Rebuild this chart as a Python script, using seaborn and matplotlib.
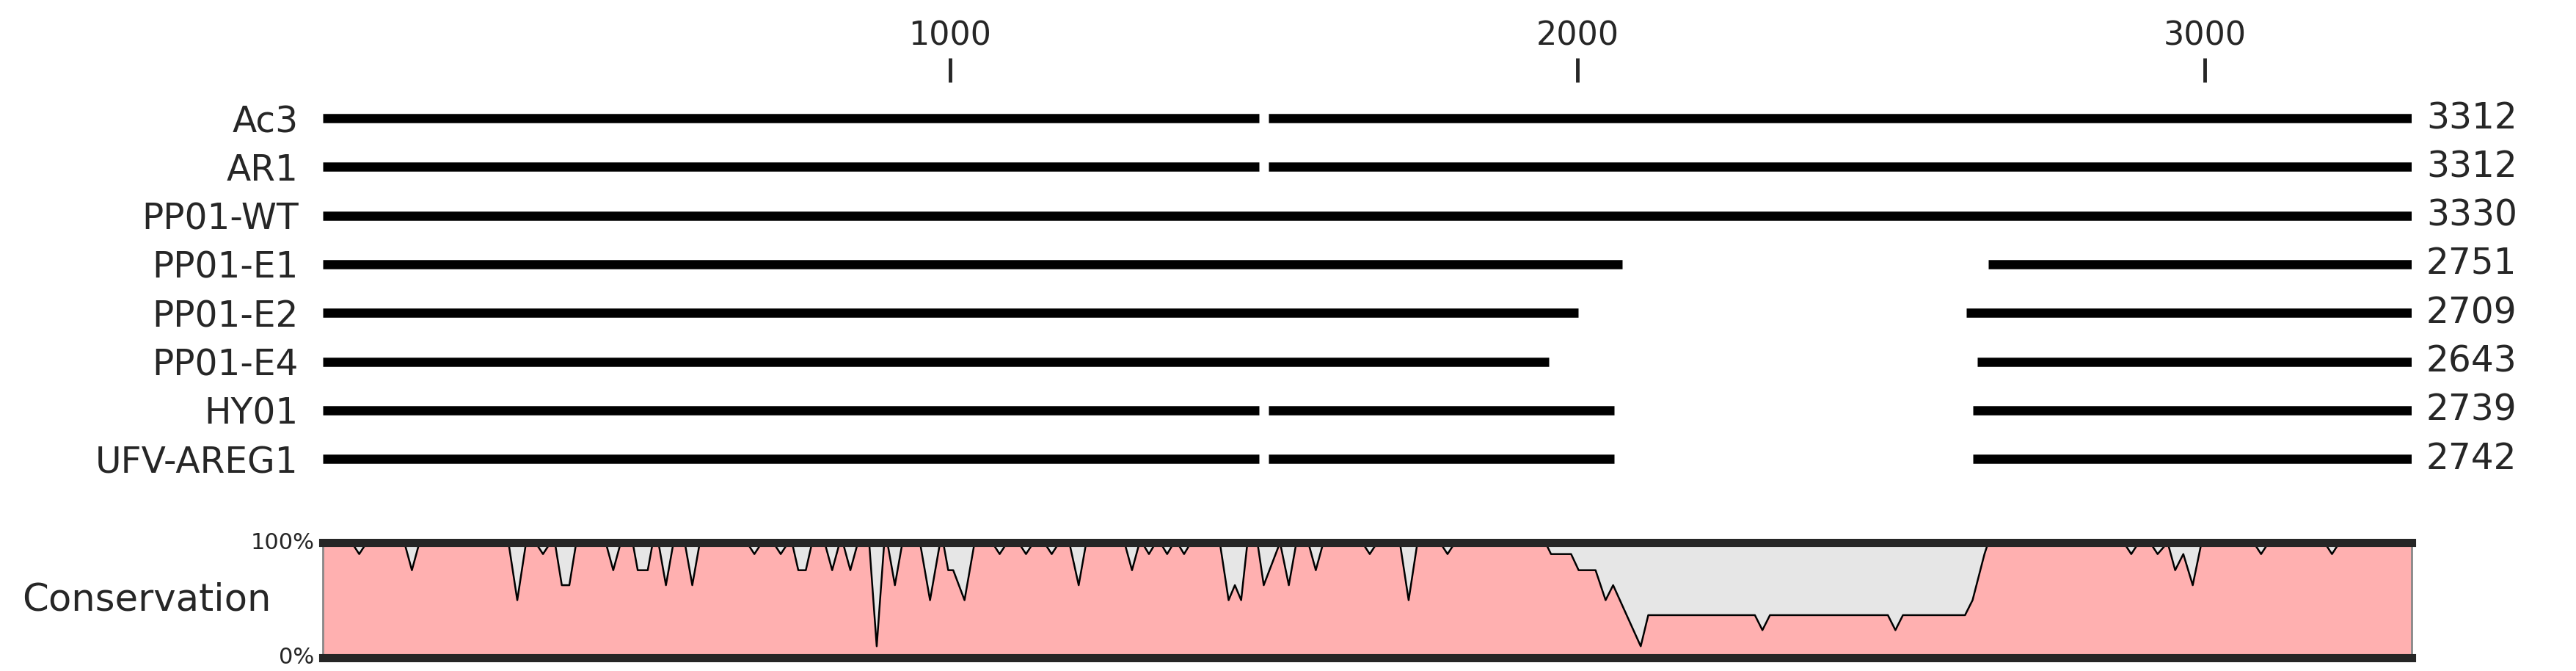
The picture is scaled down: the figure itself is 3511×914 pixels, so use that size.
import matplotlib
matplotlib.use("Agg")
import matplotlib.pyplot as plt
import seaborn as sns
import pandas as pd
import numpy as np

# sequence names, total lengths and aligned segments (alignment coordinates)
names = ['Ac3', 'AR1', 'PP01-WT', 'PP01-E1', 'PP01-E2', 'PP01-E4', 'HY01', 'UFV-AREG1']
lengths = [3312, 3312, 3330, 2751, 2709, 2643, 2739, 2742]
seg_start = [[0, 1508], [0, 1508], [0], [0, 2655], [0, 2620], [0, 2638], [0, 1508, 2631], [0, 1508, 2631]]
seg_end = [[1492, 3330], [1492, 3330], [3330], [2072, 3330], [2001, 3330], [1954, 3330], [1492, 2059, 3330], [1492, 2059, 3330]]
aln_len = 3330

# conservation profile breakpoints (position, percent)
cons_pos = [0, 46, 58, 70, 130, 142, 154, 296, 310, 324, 339, 351, 363, 370, 381, 393, 404,
            451, 463, 475, 494, 502, 518, 526, 535, 547, 559, 577, 589, 601, 676, 688, 700,
            718, 730, 742, 748, 758, 770, 780, 800, 812, 824, 829, 841, 853, 871, 883, 895,
            900, 912, 924, 952, 968, 984, 989, 997, 1005, 1023, 1039, 1067, 1079, 1091,
            1109, 1121, 1133, 1150, 1162, 1174, 1190, 1205, 1217, 1278, 1290, 1302, 1306, 1317,
            1328, 1335, 1346, 1357, 1362, 1373, 1384, 1430, 1444, 1454, 1464, 1474, 1490, 1500,
            1526, 1540, 1552, 1571, 1583, 1595, 1657, 1669, 1681, 1717, 1731, 1745, 1781, 1793,
            1805, 1949, 1958, 1990, 2002, 2029, 2045, 2057, 2101, 2113, 2283, 2295, 2307, 2495,
            2507, 2519, 2618, 2630, 2649, 2655, 2871, 2883, 2895, 2913, 2925, 2941, 2953, 2966,
            2981, 2995, 3078, 3090, 3102, 3191, 3203, 3215, 3330]
cons_val = [100, 100, 90, 100, 100, 76, 100, 100, 50, 100, 100, 90, 100, 100, 63, 63, 100,
            100, 76, 100, 100, 76, 76, 100, 100, 63, 100, 100, 63, 100, 100, 90, 100,
            100, 90, 100, 100, 76, 76, 100, 100, 76, 100, 100, 76, 100, 100, 10, 100,
            100, 63, 100, 100, 50, 100, 100, 76, 76, 50, 100, 100, 90, 100,
            100, 90, 100, 100, 90, 100, 100, 63, 100, 100, 76, 100, 100, 90,
            100, 100, 90, 100, 100, 90, 100, 100, 50, 63, 50, 100, 100, 63,
            100, 63, 100, 100, 76, 100, 100, 90, 100, 100, 50, 100, 100, 90,
            100, 100, 90, 90, 76, 76, 50, 63, 10, 37, 37, 24, 37, 37,
            24, 37, 37, 50, 90, 100, 100, 90, 100, 100, 90, 100, 76, 90,
            63, 100, 100, 90, 100, 100, 90, 100, 100]

ticks = [1000, 2000, 3000]

sns.set_style('white')
plt.rcParams['font.family'] = ['DejaVu Sans']

W, H = 3511, 914
fig = plt.figure(figsize=(W / 100, H / 100), dpi=100)
x0, x1 = 440 / W, 3287 / W

# top panel: rows at pixel 161 + 66.3*i, axes from pixel 112 to 700
top_px, bot_px = 112, 700
ax = fig.add_axes([x0, 1 - bot_px / H, x1 - x0, (bot_px - top_px) / H])
rows = []
for i, n in enumerate(names):
    for s, e in zip(seg_start[i], seg_end[i]):
        rows.append((n, i, s, e))
seg_df = pd.DataFrame(rows, columns=['name', 'row', 'start', 'end'])
long_df = pd.concat([
    pd.DataFrame({'x': [r.start, r.end], 'row': [r.row, r.row], 'seg': [k, k]})
    for k, r in enumerate(seg_df.itertuples())
])
sns.lineplot(data=long_df, x='x', y='row', units='seg', estimator=None, color='black',
             lw=9, solid_capstyle='butt', ax=ax, legend=False)
ax.set_xlim(0, aln_len)
ax.set_ylim((bot_px - 161) / 66.3, (top_px - 161) / 66.3)
for sp in ax.spines.values():
    sp.set_visible(False)
ax.set_yticks(range(len(names)))
ax.set_yticklabels(names, fontsize=35)
ax.tick_params(axis='y', length=0, pad=24)
ax.xaxis.tick_top()
ax.set_xticks(ticks)
ax.set_xticklabels([str(t) for t in ticks], fontsize=32)
ax.tick_params(axis='x', direction='out', length=24, width=3.5, pad=6)
ax.set_xlabel('')
ax.set_ylabel('')
for i, L in enumerate(lengths):
    ax.text(1.007, i, str(L), transform=ax.get_yaxis_transform(), va='center', ha='left', fontsize=35)

# conservation panel
c_top, c_bot = 739, 896
axc = fig.add_axes([x0, 1 - c_bot / H, x1 - x0, (c_bot - c_top) / H])
cons_df = pd.DataFrame({'pos': cons_pos, 'val': cons_val})
axc.fill_between(cons_df.pos, 0, 100, color='#e6e6e6', lw=0)
axc.fill_between(cons_df.pos, 0, cons_df.val, color='#ffb0b0', lw=0)
sns.lineplot(data=cons_df, x='pos', y='val', color='black', lw=1.8, ax=axc, estimator=None)
axc.set_xlim(0, aln_len)
axc.set_ylim(0, 100)
axc.set_xticks([])
axc.set_yticks([])
axc.set_xlabel('')
axc.set_ylabel('')
axc.spines['top'].set_linewidth(8)
axc.spines['bottom'].set_linewidth(8)
axc.spines['left'].set_color('#888888')
axc.spines['right'].set_color('#888888')
axc.spines['left'].set_linewidth(2)
axc.spines['right'].set_linewidth(2)
axc.text(-0.004, 1.0, '100%', transform=axc.transAxes, ha='right', va='center', fontsize=22)
axc.text(-0.004, 0.0, '0%', transform=axc.transAxes, ha='right', va='center', fontsize=22)
fig.text(200 / W, 1 - 818 / H, 'Conservation', ha='center', va='center', fontsize=37)

fig.savefig('out.png', dpi=100)
